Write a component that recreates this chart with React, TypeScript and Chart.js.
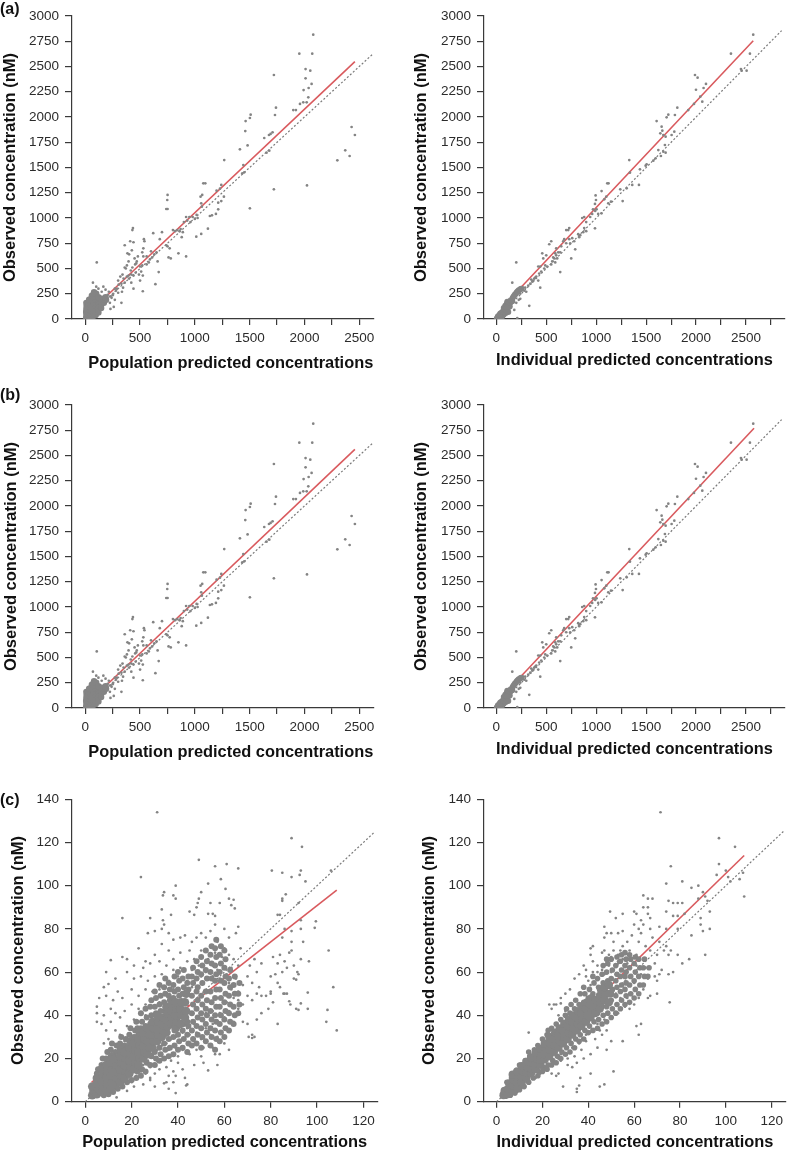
import React, { useEffect, useRef } from "react";
import { Chart, registerables } from "chart.js";

Chart.register(...registerables);

// All values are visual estimates. The dense clouds cannot be
// resolved into single dots, so the *Core and *Mid lists are a coarse reading of those
// filled areas, drawn with larger dots that stand in for many overlapping points.
type P = [number, number];

const concXTicks = [0, 250, 500, 750, 1000, 1250, 1500, 1750, 2000, 2250, 2500];
const concXTicksLong = [...concXTicks, 2750];
const concYTicks = [0, 250, 500, 750, 1000, 1250, 1500, 1750, 2000, 2250, 2500, 2750, 3000];
const concXLabels = [0, 500, 1000, 1500, 2000, 2500];
const lowXTicks = [0, 20, 40, 60, 80, 100, 120];
const lowYTicks = [0, 20, 40, 60, 80, 100, 120, 140];

const popConcCore: P[] = [[8,10],[10,40],[8,70],[10,100],[12,130],[10,160],[25,15],[30,45],[28,75],[30,105],[32,135],[30,165],[35,190],[50,20],[50,50],[52,80],[52,110],[50,140],[55,170],[55,200],[60,230],[75,30],[72,60],[75,90],[75,120],[78,150],[72,180],[78,210],[75,240],[80,265],[95,40],[98,70],[98,100],[100,130],[98,160],[100,190],[100,220],[100,250],[120,65],[120,95],[122,125],[122,155],[122,185],[120,215],[145,110],[145,140],[145,170],[148,200],[170,160],[170,190],[190,190],[185,215]];
const popConcPoints: P[] = [[2080,2815],[1953,2627],[2071,2627],[2010,2475],[2053,2459],[2010,2383],[2065,2327],[2038,2287],[1992,2267],[2035,2195],[1959,2129],[1989,2145],[2020,2145],[1898,2069],[1922,2069],[1721,2416],[1740,2092],[1731,2020],[1509,2023],[1502,1990],[1463,1960],[1460,1861],[1481,1719],[1411,1680],[1268,1574],[1709,1848],[1691,1832],[1676,1822],[1633,1792],[1679,1667],[1654,1647],[2430,1901],[2460,1822],[2372,1670],[2412,1614],[2300,1571],[2023,1323],[1721,1284],[1502,1096],[1442,1525],[1451,1452],[1433,1442],[1077,1343],[1095,1343],[1067,1228],[1052,1211],[1058,1145],[1064,1112],[1241,1327],[1229,1290],[1198,1271],[1265,1211],[1241,1168],[1213,1152],[1213,1086],[1192,1040],[1156,1026],[1137,1020],[1119,894],[1058,842],[1013,815],[751,1228],[748,1178],[739,1089],[751,1089],[1016,1030],[1025,1000],[1000,990],[980,1010],[950,1010],[920,1010],[900,960],[930,975],[960,960],[870,890],[890,860],[860,870],[840,880],[820,870],[800,880],[880,810],[920,620],[850,650],[780,600],[760,610],[770,700],[750,720],[740,730],[700,860],[680,790],[620,850],[650,660],[600,670],[560,620],[530,620],[660,570],[670,465],[640,345],[525,275],[500,380],[510,470],[525,430],[490,440],[465,550],[455,540],[430,510],[415,480],[400,400],[420,360],[440,300],[395,430],[370,500],[385,650],[360,730],[410,770],[440,760],[430,880],[435,900],[540,770],[535,790],[520,660],[530,700],[480,620],[470,570],[450,600],[425,680],[400,640],[395,570],[380,530],[360,510],[340,440],[320,420],[300,380],[305,340],[335,270],[345,310],[360,360],[330,160],[300,260],[270,300],[255,250],[240,210],[270,190],[260,120],[230,100],[225,160],[215,270],[185,290],[165,320],[105,560],[70,360],[100,320],[120,300],[150,270],[205,240],[590,590],[610,610],[630,640],[580,560],[520,530],[560,540],[500,520],[440,430],[460,460],[380,420],[350,400],[420,440],[330,350],[290,300],[280,280],[250,235],[230,225]];

const indConcCore: P[] = [[5,5],[15,10],[15,25],[25,25],[30,15],[30,40],[40,30],[40,55],[50,40],[55,65],[60,25],[65,55],[70,80],[75,45],[75,110],[80,65],[85,95],[90,130],[95,60],[100,90],[100,120],[105,150],[110,170],[115,110],[120,70],[125,140],[125,165],[135,125],[140,160],[145,185],[160,175],[165,210],[175,225],[185,240],[195,250],[205,265],[215,275],[225,285],[240,295],[250,300]];
const indConcPoints: P[] = [[2572,2815],[2349,2627],[2539,2627],[2449,2475],[2456,2459],[2506,2459],[1989,2416],[2015,2389],[2099,2327],[2075,2287],[1999,2270],[2042,2201],[2062,2152],[1979,2129],[1922,2069],[1812,2092],[1722,2023],[1705,1997],[1788,2020],[1605,1960],[1655,1904],[1662,1865],[1642,1838],[1672,1822],[1695,1805],[1782,1855],[1755,1822],[1688,1723],[1622,1673],[1672,1657],[1695,1647],[1648,1614],[1595,1591],[1572,1568],[1495,1518],[1505,1531],[1438,1482],[1331,1574],[1338,1449],[1428,1327],[1361,1327],[1305,1294],[1241,1284],[1265,1168],[1111,1343],[1124,1343],[1054,1267],[994,1224],[1101,1211],[1081,1185],[998,1178],[988,1139],[968,1086],[1004,1086],[988,898],[1121,1145],[1148,1162],[1054,1046],[960,1040],[940,1010],[880,1010],[860,1000],[990,1070],[1020,1040],[900,960],[880,900],[900,870],[870,860],[840,830],[830,810],[820,840],[750,600],[790,690],[780,770],[730,900],[700,880],[720,880],[680,790],[670,770],[730,790],[760,800],[740,750],[700,750],[650,720],[640,660],[600,700],[590,650],[570,610],[610,600],[560,570],[590,560],[640,465],[550,770],[530,740],[460,650],[500,630],[470,600],[440,520],[420,520],[510,520],[490,530],[450,470],[430,450],[440,310],[420,380],[390,410],[370,380],[350,390],[340,350],[330,130],[300,270],[280,280],[260,300],[200,560],[160,360],[210,10],[200,160],[180,90],[600,630],[620,660],[580,600],[550,540],[480,500],[400,420],[380,400],[360,370],[320,330],[290,310],[270,310],[240,250],[225,190],[240,200]];

const cPopCore: P[] = [[3,3],[3.5,5],[3,7],[5,3.5],[5.5,6],[5,8.5],[5,11],[7,4.5],[7.5,7],[7,9.5],[7.5,12],[7,15],[9,5],[9.5,8],[9,11],[9.5,14],[9,17],[11,6],[11.5,9],[11,12],[11.5,15],[11,18],[11.5,21],[13,8],[13.5,11],[13,14],[13.5,17],[13,20],[15,9],[15.5,12],[15,15],[15.5,18],[15,21],[15.5,24],[17,11],[17.5,14],[17,17],[17.5,20],[17,23],[19,13],[19.5,16],[19,19],[19.5,22],[19,25],[19.5,28],[21,15],[21.5,18],[21,21],[21.5,24],[21,27],[23,17],[23.5,20],[23,23],[23.5,26],[23,29],[23.5,32],[25,20],[25.5,23],[25,26],[25.5,29],[25,32],[27,22],[27.5,25],[27,28],[27.5,31],[27,34],[29,25],[29.5,28],[29,31],[29.5,34],[29,37],[31,28],[31.5,31],[31,34],[31.5,37],[31,40],[33,30],[33.5,33],[33,36],[33.5,39],[35,32],[35.5,35],[35,38],[35.5,41],[35,44],[37,36],[37.5,39],[37,42],[37.5,45],[39,34],[39.5,37],[39,40],[39.5,43],[39,46],[41,36],[41.5,40],[41,43],[41.5,46],[43,39],[43.5,42],[43,46],[43.5,50]];
const cPopMid: P[] = [[5,13],[5.5,15],[7,17],[7.5,20],[9,20],[9.5,23],[11,24],[11.5,27],[13,23],[13.5,26],[15,27],[15.5,30],[17,26],[17.5,29],[19,31],[19.5,34],[21,30],[21.5,33],[8,3],[10,3.5],[12,4.5],[14,6],[16,7],[18,9],[20,10],[22,11],[22.5,14],[22,30],[22.5,34],[22,37],[24,12],[24.5,15],[24,34],[24.5,37],[24,41],[26,14],[26.5,18],[26,35],[26.5,39],[26,43],[28,17],[28.5,21],[28,36],[28.5,40],[28,44],[28.5,47],[30,17],[30.5,20],[30,23],[30.5,41],[30,44],[30.5,48],[30,51],[32,19],[32.5,22],[32,25],[32.5,42],[32,45],[32.5,49],[32,54],[34,20],[34.5,24],[34,27],[34.5,42],[34,46],[34.5,50],[34,53],[34.5,57],[36,21],[36.5,25],[36,29],[36.5,47],[36,49],[36.5,52],[36,55],[38,22],[38.5,26],[38,30],[38.5,33],[38,48],[38.5,51],[38,54],[38.5,58],[40,24],[40.5,28],[40,31],[40.5,49],[40,52],[40.5,56],[40,60],[42,25],[42.5,29],[42,33],[42.5,36],[42,50],[42.5,53],[42,57],[42.5,61],[44,23],[44.5,27],[44,31],[44.5,35],[44,37],[44.5,52],[44,55],[44.5,58],[46,26],[46.5,29],[46,33],[46.5,37],[46,41],[46.5,45],[46,49],[46.5,55],[46,58],[46.5,62],[48,27],[48.5,31],[48,35],[48.5,39],[48,43],[48.5,47],[48,51],[48.5,53],[48,57],[48.5,60],[48,65],[50,25],[50.5,30],[50,34],[50.5,38],[50,41],[50.5,45],[50,49],[50.5,55],[50,59],[50.5,63],[50,67],[52,28],[52.5,32],[52,36],[52.5,40],[52,43],[52.5,47],[52,51],[52.5,57],[52,61],[52.5,65],[52,70],[54,26],[54.5,30],[54,34],[54.5,38],[54,42],[54.5,46],[54,51],[54.5,57],[54,60],[54.5,64],[54,68],[54.5,72],[56,24],[56.5,29],[56,33],[56.5,37],[56,40],[56.5,44],[56,48],[56.5,52],[56,56],[56.5,59],[56,63],[56.5,67],[56,71],[56.5,75],[58,28],[58.5,32],[58,36],[58.5,40],[58,44],[58.5,48],[58,52],[58.5,56],[58,60],[58.5,64],[58,68],[58.5,72],[60,30],[60.5,34],[60,38],[60.5,42],[60,46],[60.5,50],[60,55],[60.5,58],[60,62],[60.5,66],[60,70],[62,33],[62.5,37],[62,41],[62.5,45],[62,49],[62.5,53],[62,57],[62.5,61],[64,36],[64.5,40],[64,44],[64.5,50],[64,54],[64.5,58],[66,41],[66.5,45],[66,50],[66.5,55]];
const cPopPoints: P[] = [[31,134],[89,122],[93.5,118],[49,112],[56,109],[61,110],[66,108],[80.5,107],[85,106],[93,107],[24,104],[89,104],[92.5,105],[106,107],[95,102],[58.5,103],[53,101],[39,100],[60.5,98.5],[34,97],[33.5,95.5],[38,95.5],[39,94],[50,97],[49,94],[48.5,92],[54,92],[58,92],[62,94],[64,93.5],[63,91],[86.5,96],[85,94],[85,93],[92,92],[48,90],[64.5,89.5],[33,89],[45,88],[47,86.5],[53,87],[55,87],[56,86],[37,86.5],[16,85],[28,85],[33.5,84],[34,82],[33,80],[99.5,83.5],[99,80.5],[83,86.5],[84,86.5],[93,84],[93,80],[105,70],[107,53],[108.5,33],[104.5,42.5],[104,37],[96,50.5],[96,43],[93,45.5],[91,43],[92,42.5],[96.5,65],[93,66],[92,59],[91.5,60],[90,57],[91,56.5],[88,46.5],[88.5,45],[86,50],[85.5,50],[83,36],[72,31],[73,30],[72,29.5],[70.5,30],
[89,79],[86,80],[85,76],[89,74],[94,74],[89,70],[88,69],[84,68],[81,67],[83,64],[86,65],[87,62],[90,63],[85,60],[82,59],[80,58],[83,55],[80,51],[80,50],[84,53],[87,50],[78,49],[76,49],[81,46],[79,43],[76,41],[74,38],[70,36],[68,37],[66,43],[68,45],[64,48],[70,49],[72,47],[74,50],[75,53],[72,55],[70,58],[68,54],[66,51],[74,60],[71,63],[73,66],[76,64],[66,63],[64,66],[67,71],[65,78],[66,81],[62,76],[60,80],[56,82],[54,79],[52,76],[50,78],[48,76],[46,74],[43,77],[41,76],[38,75],[36,78],[30,79],[27,78],[23,71],[26,65],[30,68],[33,73],[36,70],[38,66],[41,69],[45,70],[47,66],[50,70],[54,72],[57,74],[60,71],[62,68],[59,67],[56,69],[53,66],[55,63],[59,64],[63,62],[61,59],[57,61],[52,60],[49,63],[46,61],[44,65],[41,62],[38,61],[35,63],[32,65],[28,64],[25,62],[21,63],[18,66],[16,67],[11,65.5],[9,60],[13,57],[18,60],[21,57],[24,58],[27,56],[30,58],[33,59],[36,56],[40,58],[44,56],[47,56],[50,58],[10,54.5],[8,53],[6,48],[9,49],[12,47],[14,51],[16,48],[20,52],[23,49],[26,52],[29,51],[32,52],[35,50],[38,52],[42,53],[46,53],[5,44],[5,41],[5,37],[7,36],[8,40],[11,43],[13,41],[15,39],[17,42],[20,45],[23,43],[26,45],[29,47],[32,46],[9,33],[11,37],[13,33],[15,31],[18,35],[21,38],[23,37],[26,40],[8,27],[10,29],[12,27],[14,25],[17,28],[19,31],[55,58],[58,57],[62,55],[65,57],[63,52],[66,47],[64,44],[61,46],[62,42],[60,39],[58,41],[55,42],[52,41],[50,38],[47,36],[44,34],[42,32],[45,31],[48,32],[52,34],[55,36],[58,36],[60,34],[62,37],[64,37],[54,31],[57,30],[50,29],[47,28],[44,27],[41,28],[39,30],[37,29],[35,27],[33,26],[31,24],[29,22],[27,19],[25,17],[24,14],[22,12],[26,13],[28,16],[31,19],[33,22],[36,24],[39,25],[42,24],[45,22],[48,24],[51,25],[55,25],[56,22],[58,22],[62,24],[60,27],[40,21],[37,19],[35,16],[32,15],[30,13],[28,11],[38,14],[36,12],[40,18],[38,9],[39,12],[42,15],[43,11],[44,8],[43.5,7.5],[35,9],[34,8.5],[36,6],[39,4],[30,7],[28,10],[25,8],[21,7],[18,5],[20,9],[13.5,2],[50,21],[51,18],[47,17],[53,14.5],[57,17]];

const cIndCore: P[] = [[3,3],[3.5,5],[5,3.5],[5,6],[5.5,8.5],[7,5],[7,7.5],[7.5,10],[7,12.5],[9,6.5],[9,9],[9.5,11.5],[9,14],[11,9],[11,11.5],[11.5,14],[11,16.5],[13,11],[13,13.5],[13.5,16],[13,18.5],[15,13],[15,15.5],[15.5,18],[15,20.5],[17,15],[17,17.5],[17.5,20],[17,22.5],[19,17],[19,19.5],[19.5,22],[19,24.5],[21,19.5],[21,22],[21.5,24.5],[21,27],[23,21],[23,24],[23.5,27],[23,30],[25,23],[25.5,26],[25,29],[25.5,32],[27,25],[27.5,28],[27,31],[27.5,34],[29,27],[29.5,30],[29,33],[29.5,36],[31,29],[31.5,32],[31,35],[31.5,38],[33,31],[33.5,34],[33,37],[33.5,40],[35,33],[35.5,36],[35,39],[35.5,42],[37,35],[37.5,38],[37,41],[37.5,44],[39,37],[39.5,40],[39,43],[39.5,46],[41,39],[41.5,42],[41,45],[41.5,48],[43,41],[43.5,44],[43,47],[45,43],[45.5,46],[45,49],[45.5,52],[47,47],[47.5,50],[47,53],[49,46],[49.5,50],[49,54]];
const cIndMid: P[] = [[4,2.5],[4.5,9],[6,3],[6.5,11],[8,4],[8.5,14],[10,5.5],[10.5,7],[10,17],[12,7],[12.5,19],[14,9],[14.5,21],[14,23],[16,11],[16.5,24],[18,12],[18.5,14],[18,26],[20,14],[20.5,16],[20,29],[22,15],[22.5,17],[22,31],[22.5,33],[24,17],[24.5,19],[24,34],[26,18],[26.5,21],[26,36],[28,20],[28.5,23],[28,38],[30,22],[30.5,25],[30,40],[30.5,43],[32,23],[32.5,27],[32,41],[32.5,45],[34,25],[34.5,29],[34,43],[34.5,47],[36,28],[36.5,31],[36,45],[36.5,50],[38,29],[38.5,33],[38,46],[38.5,50],[38,53],[40,32],[40.5,35],[40,48],[40.5,52],[42,33],[42.5,37],[42,50],[42.5,55],[42,58],[44,34],[44.5,38],[44,41],[44.5,53],[44,57],[46,36],[46.5,40],[46,44],[46.5,55],[46,59],[46.5,63],[48,37],[48.5,41],[48,44],[48.5,56],[48,60],[48.5,64],[48,66],[50,39],[50.5,43],[50,47],[50.5,52],[50,57],[50.5,61],[50,66],[52,41],[52.5,45],[52,49],[52.5,53],[52,56],[52.5,59],[52,63],[52.5,67],[54,43],[54.5,47],[54,51],[54.5,54],[54,58],[54.5,61],[54,65],[54.5,68],[56,45],[56.5,49],[56,52],[56.5,55],[56,58],[56.5,60],[56,63],[56.5,66],[56,69],[58,46],[58.5,50],[58,54],[58.5,58],[58,62],[58.5,66],[58,68],[60,48],[60.5,52],[60,56],[60.5,60],[60,64],[60.5,67],[62,50],[62.5,54],[62,58],[62.5,62],[62,66],[64,54],[64.5,58],[64,62],[64.5,66],[66,58],[66.5,62]];
const cIndPoints: P[] = [[71.5,134],[97,122],[104,118],[76,109],[97,110],[100,107],[96,105],[101,104],[106,103],[107.5,106],[102,102],[74,101],[81,102],[85,99],[88,100],[90,97],[64,95.5],[66,94],[68,94],[91,95],[88,94],[92,93],[75,93],[77,92],[79,92],[81,92],[108,95],[49.5,88],[64,90],[66,90],[55,87],[52,85],[60,88],[61,87],[63,84],[66,87],[67,85],[74,88],[77,86],[79,86],[82,87],[89,85],[93,88],[89,82],[47,81],[55,79],[60,82],[62,80],[64,82],[67,80],[71,81],[74,80],[79,80],[85,77],[90,79],[93,80],[91,68],[84,66],[81,64],[75,59],[77,60],[75.5,46],[79,68],[75,68],[73,70],[71,74],[68,76],[63,78],[59,77],[57,74],[53,78],[50,78],[48,78],[47,76],[51,74],[55,72],[58,70],[62,74],[65,72],[67,70],[70,68],[74,72],[76,70],[47,70],[42,72],[41,71],[41,68],[42,65],[46,69],[50,67],[53,65],[57,66],[61,68],[61,63],[65,62],[69,64],[71,59],[70,56],[72,61],[69,58],[66,57],[63,59],[64,52],[67,49],[70,50],[66,48],[62,48],[63,54],[60,55],[57,60],[53,64],[49,63],[46,61],[42,60],[39,58],[38,63],[39,61],[36,59],[34,57],[32,52],[30,50],[28,48],[26,45],[24,43],[23,45],[27,40],[30,42],[34,47],[37,50],[41,54],[44,57],[47,59],[50,60],[52,50],[54,48],[57,48],[59,50],[60,45],[58,43],[56,44],[53,41],[50,39],[47,38],[44,36],[42,33],[39,31],[36,27],[33,25],[31,25],[28,22],[25,19],[22,16],[19,13],[17,11],[14,9],[12,7],[9,4.5],[6,2.5],[8,3.5],[14,32],[45,33],[48,33],[50,28],[51,14],[47,8],[45,7],[41,13],[36.5,11],[36,7.5],[35,6],[35,4.5],[29,7],[31,17],[27,20],[24,13],[26,12],[33,16],[27,13],[28,19],[61,35],[62,31],[63,36],[55,28],[48,24],[44,25],[41,22],[38,20],[35,18],[43,29],[46,31],[39,28],[37,24],[34,21],[31,20],[28,45.5],[25,45],[53,68],[55,66],[57,64],[54,70],[51,70],[49,68],[44,63],[44,60],[40,56]];

const noPoints: P[] = [];
const aPopIdentity: P[] = [[0,0],[2620,2620]];
const aPopFit: P[] = [[195,228],[2460,2548]];
const aIndIdentity: P[] = [[0,0],[2856,2855]];
const aIndFit: P[] = [[253,320],[2572,2755]];
const bPopFit: P[] = [[195,228],[2460,2560]];
const bIndFit: P[] = [[253,320],[2580,2770]];
const cPopIdentity: P[] = [[0,0],[125,125]];
const cPopFit: P[] = [[2.7,9],[108.5,98]];
const cIndIdentity: P[] = [[0,0],[125.5,125.5]];
const cIndFit: P[] = [[2,4.4],[108,114]];

const xTitlePop = "Population predicted concentrations";
const xTitleInd = "Individual predicted concentrations";
const yTitle = "Observed concentration (nM)";

const FONT = "'Liberation Sans', Arial, sans-serif";
const INK = "#2b2b2b";
const DOT = "#848484";
const RED = "#d95a5e";

interface PanelSpec {
  left: number; top: number; width: number; height: number;
  yScaleWidth: number; xScaleHeight: number; padTop: number; padRight: number;
  xMin: number; xMax: number; xTicks: number[]; xLabels: number[];
  yMax: number; yTicks: number[];
  points: P[]; mid: P[]; midRadius: number; core: P[]; coreRadius: number; identity: P[]; fit: P[];
  xTitle: string; xAlign: "center" | "end"; xPad: number; yPad: number;
}

const panels: PanelSpec[] = [
  { left: 0, top: 0, width: 395, height: 380, yScaleWidth: 72, xScaleHeight: 61, padTop: 16, padRight: 21.7, xMin: -121, xMax: 2628, xTicks: concXTicks, xLabels: concXLabels, yMax: 3000, yTicks: concYTicks, points: popConcPoints, mid: noPoints, midRadius: 0, core: popConcCore, coreRadius: 3.2, identity: aPopIdentity, fit: aPopFit, xTitle: xTitlePop, xAlign: "end", xPad: 7, yPad: 1 },
  { left: 395, top: 0, width: 395, height: 380, yScaleWidth: 89, xScaleHeight: 61, padTop: 16, padRight: 5, xMin: -123, xMax: 2890, xTicks: concXTicksLong, xLabels: concXLabels, yMax: 3000, yTicks: concYTicks, points: indConcPoints, mid: noPoints, midRadius: 0, core: indConcCore, coreRadius: 3, identity: aIndIdentity, fit: aIndFit, xTitle: xTitleInd, xAlign: "center", xPad: 10, yPad: 17 },
  { left: 0, top: 389, width: 395, height: 380, yScaleWidth: 72, xScaleHeight: 61, padTop: 16, padRight: 21.7, xMin: -121, xMax: 2628, xTicks: concXTicks, xLabels: concXLabels, yMax: 3000, yTicks: concYTicks, points: popConcPoints, mid: noPoints, midRadius: 0, core: popConcCore, coreRadius: 3.2, identity: aPopIdentity, fit: bPopFit, xTitle: xTitlePop, xAlign: "end", xPad: 7, yPad: 2 },
  { left: 395, top: 389, width: 395, height: 380, yScaleWidth: 89, xScaleHeight: 61, padTop: 16, padRight: 5, xMin: -123, xMax: 2890, xTicks: concXTicksLong, xLabels: concXLabels, yMax: 3000, yTicks: concYTicks, points: indConcPoints, mid: noPoints, midRadius: 0, core: indConcCore, coreRadius: 3, identity: aIndIdentity, fit: bIndFit, xTitle: xTitleInd, xAlign: "center", xPad: 10, yPad: 17 },
  { left: 0, top: 770, width: 395, height: 382, yScaleWidth: 72, xScaleHeight: 50.3, padTop: 29.3, padRight: 17.7, xMin: -5.74, xMax: 126, xTicks: lowXTicks, xLabels: lowXTicks, yMax: 140, yTicks: lowYTicks, points: cPopPoints, mid: cPopMid, midRadius: 3, core: cPopCore, coreRadius: 4.3, identity: cPopIdentity, fit: cPopFit, xTitle: xTitlePop, xAlign: "center", xPad: 0, yPad: 9 },
  { left: 395, top: 770, width: 395, height: 382, yScaleWidth: 89, xScaleHeight: 50.3, padTop: 29.3, padRight: 0, xMin: -5.5, xMax: 126.2, xTicks: lowXTicks, xLabels: lowXTicks, yMax: 140, yTicks: lowYTicks, points: cIndPoints, mid: cIndMid, midRadius: 2.8, core: cIndCore, coreRadius: 4.1, identity: cIndIdentity, fit: cIndFit, xTitle: xTitleInd, xAlign: "center", xPad: 0, yPad: 24.5 },
];

const panelLabels: { text: string; top: number }[] = [
  { text: "(a)", top: -1 },
  { text: "(b)", top: 385 },
  { text: "(c)", top: 790 },
];

function toXY(list: P[]) {
  return list.map(([x, y]) => ({ x, y }));
}

function Panel({ spec }: { spec: PanelSpec }) {
  const ref = useRef<HTMLCanvasElement | null>(null);
  useEffect(() => {
    if (!ref.current) return;
    const chart = new Chart(ref.current, {
      type: "scatter",
      data: {
        datasets: [
          { data: toXY(spec.points), backgroundColor: DOT, borderWidth: 0, pointRadius: 1.35, order: 2 },
          { data: toXY(spec.mid), backgroundColor: DOT, borderWidth: 0, pointRadius: spec.midRadius, order: 1 },
          { data: toXY(spec.core), backgroundColor: DOT, borderWidth: 0, pointRadius: spec.coreRadius, order: 0 },
          { data: toXY(spec.fit), showLine: true, borderColor: RED, borderWidth: 1.6, pointRadius: 0, order: 3 },
          { data: toXY(spec.identity), showLine: true, borderColor: "#7a7a7a", borderWidth: 1.2, borderDash: [2, 2], pointRadius: 0, order: 4 },
        ],
      },
      options: {
        responsive: false,
        animation: false,
        events: [],
        layout: { padding: { top: spec.padTop, right: spec.padRight, left: 0, bottom: 0 } },
        plugins: { legend: { display: false }, tooltip: { enabled: false } },
        scales: {
          x: {
            type: "linear",
            min: spec.xMin,
            max: spec.xMax,
            afterFit: (s: any) => { s.height = spec.xScaleHeight; },
            afterBuildTicks: (s: any) => { s.ticks = spec.xTicks.map((value) => ({ value })); },
            border: { color: "#3a3a3a", width: 1.2 },
            grid: { drawOnChartArea: false, color: "#3a3a3a", tickLength: 6, lineWidth: 1.2 },
            ticks: {
              autoSkip: false,
              maxRotation: 0,
              padding: 5,
              color: INK,
              font: { family: FONT, size: 13.5 },
              callback: (v: any) => (spec.xLabels.includes(Number(v)) ? String(v) : ""),
            },
            title: {
              display: true,
              text: spec.xTitle,
              align: spec.xAlign,
              color: "#111",
              font: { family: FONT, size: 16.4, weight: "bold" },
              padding: { top: 0, bottom: spec.xPad },
            },
          },
          y: {
            type: "linear",
            min: 0,
            max: spec.yMax,
            afterFit: (s: any) => { s.width = spec.yScaleWidth; },
            afterBuildTicks: (s: any) => { s.ticks = spec.yTicks.map((value) => ({ value })); },
            border: { color: "#3a3a3a", width: 1.2 },
            grid: { drawOnChartArea: false, color: "#3a3a3a", tickLength: 7, lineWidth: 1.2 },
            ticks: {
              autoSkip: false,
              padding: 6,
              color: INK,
              font: { family: FONT, size: 13.5 },
              callback: (v: any) => String(v),
            },
            title: {
              display: true,
              text: yTitle,
              color: "#111",
              font: { family: FONT, size: 16.5, weight: "bold" },
              padding: { top: spec.yPad, bottom: 0 },
            },
          },
        },
      },
    } as any);
    return () => chart.destroy();
  }, [spec]);
  return (
    <canvas
      ref={ref}
      width={spec.width}
      height={spec.height}
      style={{ position: "absolute", left: spec.left, top: spec.top, width: spec.width, height: spec.height, display: "block" }}
    />
  );
}

export default function App() {
  return (
    <div style={{ position: "absolute", left: 0, top: 0, width: 790, height: 1152, background: "#fff", overflow: "hidden" }}>
      {panels.map((p, i) => (
        <Panel key={i} spec={p} />
      ))}
      {panelLabels.map((l) => (
        <div key={l.text} style={{ position: "absolute", left: 0, top: l.top, font: `bold 16px ${FONT}`, color: "#111", lineHeight: "19px" }}>
          {l.text}
        </div>
      ))}
    </div>
  );
}
